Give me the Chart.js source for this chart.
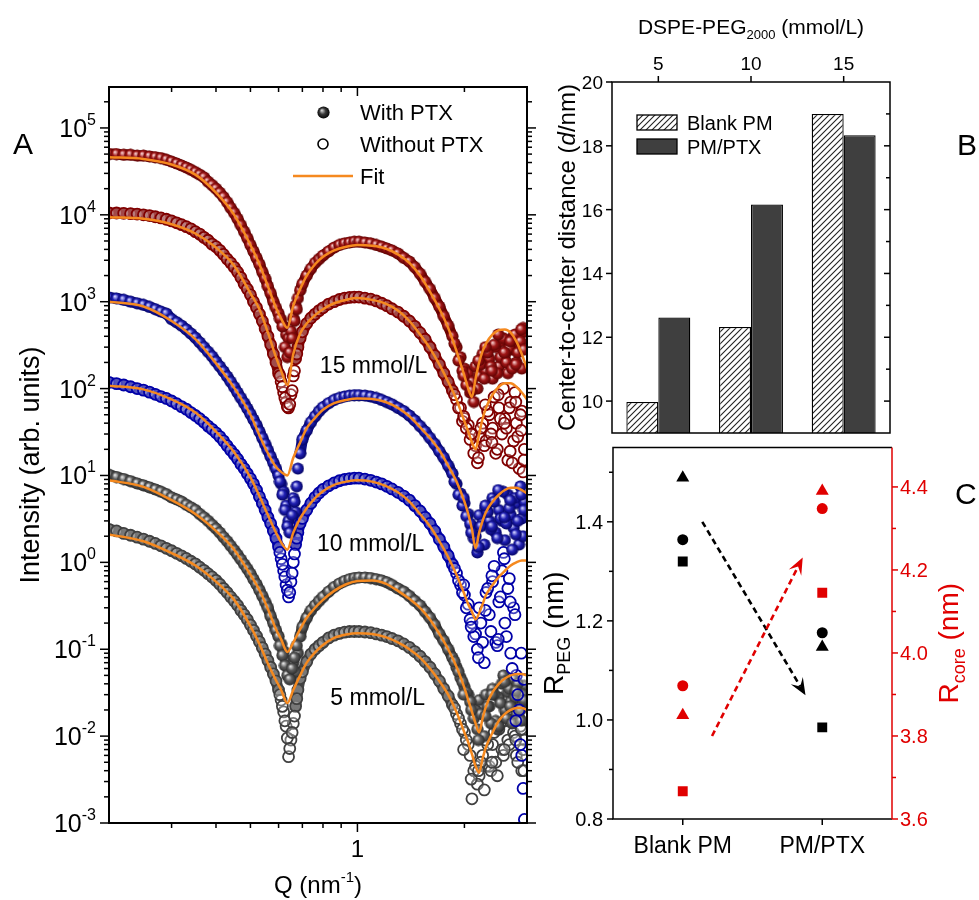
<!DOCTYPE html>
<html>
<head>
<meta charset="UTF-8">
<title>SAXS of DSPE-PEG2000 micelles</title>
<script src="https://cdn.jsdelivr.net/npm/chart.js"></script>
<style>
  body { margin: 0; background: #fff; }
  #wrap { position: relative; width: 979px; height: 900px; overflow: hidden; }
  #wrap canvas { position: absolute; }
</style>
</head>
<body>
<div id="wrap">
  <canvas id="chartA" width="545" height="900" style="left:0;top:0;width:545px;height:900px"></canvas>
  <canvas id="chartB" width="449" height="440" style="left:530px;top:0;width:449px;height:440px"></canvas>
  <canvas id="chartC" width="449" height="460" style="left:530px;top:440px;width:449px;height:460px"></canvas>
</div>

<script>
// ---------- A: scattering curves ----------
const qData = [
  0.20,0.21,0.22,0.23,0.24,0.25,0.26,0.27,0.28,0.29,
  0.30,0.31,0.32,0.33,0.34,0.35,0.36,0.37,0.38,0.39,
  0.40,0.41,0.42,0.43,0.44,0.45,0.46,0.47,0.48,0.49,
  0.50,0.51,0.52,0.53,0.54,0.55,0.56,0.57,0.58,0.59,
  0.60,0.61,0.62,0.63,0.64,0.65,0.66,0.67,0.68,0.69,
  0.70,0.72,0.74,0.76,0.78,0.80,0.83,0.86,0.89,0.92,
  0.95,0.98,1.01,1.05,1.09,1.13,1.17,1.21,1.25,1.30,
  1.35,1.40,1.45,1.50,1.55,1.60,1.65,1.70,1.75,1.80,
  1.85,1.90,1.95,2.00,2.05,2.10,2.15,2.20,2.25,2.30,
  2.35,2.40,2.45,2.50,2.55,2.60,2.65,2.70,2.75,2.80,
  2.85,2.90,2.95
];
// extra points around the first minimum and in the noisy high-Q region
const qDip = [0.605,0.615,0.625,0.635,0.645,0.655,0.665,0.675];
const qTail = [
  1.875,1.925,1.975,2.025,2.075,2.125,2.175,2.225,2.275,2.325,
  2.375,2.425,2.475,2.525,2.575,2.625,2.675,2.725,2.775,2.825,
  2.875,2.925,
  1.99,2.09,2.19,2.29,2.39,2.49,2.59,2.69,2.79,2.89,2.94
];

const i15With = [
  5.0e4,5.0e4,4.9e4,4.9e4,4.8e4,4.8e4,4.7e4,4.6e4,4.5e4,4.3e4,
  4.1e4,3.9e4,3.7e4,3.5e4,3.3e4,3.1e4,2.9e4,2.7e4,2.4e4,2.2e4,
  2.0e4,1.8e4,1.6e4,1.4e4,1.2e4,1.05e4,9.0e3,7.6e3,6.4e3,5.4e3,
  4.5e3,3.8e3,3.2e3,2.7e3,2.2e3,1.85e3,1.5e3,1.25e3,1.0e3,850,
  730,620,520,420,380,460,650,900,1.1e3,1.35e3,
  1.6e3,2.0e3,2.4e3,2.8e3,3.1e3,3.4e3,3.8e3,4.2e3,4.5e3,4.7e3,
  4.8e3,4.9e3,4.9e3,4.8e3,4.7e3,4.5e3,4.3e3,4.1e3,3.9e3,3.6e3,
  3.2e3,2.9e3,2.5e3,2.1e3,1.7e3,1.4e3,1.1e3,880,680,530,
  400,300,230,170,150,120,180,140,250,160,
  220,130,300,180,350,240,150,280,400,200,
  330,170,450
];
const d15With = [640,520,300,230,260,380,600,820];
const t15With = [330,210,160,110,90,70,100,190,130,260,180,320,150,230,380,200,290,170,420,260,350,500,
                 140,95,210,300,160,420,260,350,190,480,280];

const i15Without = [
  1.05e4,1.05e4,1.04e4,1.03e4,1.02e4,1.0e4,9.8e3,9.5e3,9.2e3,8.9e3,
  8.5e3,8.1e3,7.7e3,7.3e3,6.9e3,6.4e3,6.0e3,5.5e3,5.1e3,4.6e3,
  4.3e3,3.9e3,3.5e3,3.1e3,2.8e3,2.5e3,2.2e3,1.9e3,1.6e3,1.4e3,
  1.2e3,1.0e3,860,720,600,490,400,320,250,200,
  150,120,90,70,60,85,140,220,300,380,
  450,560,650,720,790,850,940,1.0e3,1.06e3,1.1e3,
  1.12e3,1.13e3,1.13e3,1.1e3,1.07e3,1.02e3,960,900,830,760,
  680,600,520,440,370,300,240,190,150,120,
  95,75,60,45,38,30,22,28,40,25,
  50,35,18,60,30,45,15,70,25,40,
  12,55,20
];
const d15Without = [140,105,78,62,66,95,160,250];
const t15Without = [85,60,42,35,26,18,14,35,22,55,30,80,20,45,100,35,60,14,90,28,50,11,
                    48,30,16,65,24,85,40,19,70,33,15];

const i10With = [
  1.12e3,1.09e3,1.05e3,1.0e3,960,920,870,820,770,730,
  630,580,530,480,430,385,340,300,265,235,
  205,180,158,138,120,104,90,78,68,59,
  51,44,38,32,27,23,19.5,16.5,14,12,
  10,8.0,6.5,4.5,3.0,2.3,5.5,3.8,12,18,
  26,33,41,48,55,61,68,74,78,81,
  83,84,84,83,81,78,74,70,66,60,
  55,49,43,37,32,27,23,19,16,13,
  10.5,8.0,6.2,4.8,3.6,2.6,2.0,3.5,2.8,4.2,
  3.0,5.5,2.2,4.0,3.0,1.8,6.0,3.5,2.5,4.8,
  1.6,3.2,5.0
];
const d10With = [8.5,6.0,4.0,2.6,2.2,3.5,5.0,7.5];
const t10With = [8.5,6.0,4.5,3.4,2.8,1.9,1.3,2.6,1.6,3.8,2.4,5.0,1.9,3.2,6.5,2.8,4.2,1.4,5.5,3.0,7.5,2.0,
                 5.5,2.2,1.5,4.5,2.6,6.8,3.3,5.2,2.1,6.0,4.0];

const i10Without = [
  118,114,110,105,100,96,91,86,81,77,
  72,67,62,58,53,49,45,41,37,34,
  31,28,25,22,19.5,17.5,15.5,13.5,12,10.5,
  9.2,8.0,6.8,5.7,4.8,4.0,3.3,2.8,2.3,1.9,
  1.5,1.1,0.8,0.55,0.4,0.6,1.0,1.6,2.2,2.8,
  3.2,4.0,4.8,5.6,6.3,6.9,7.6,8.2,8.7,9.0,
  9.2,9.3,9.3,9.1,8.8,8.4,8.0,7.5,7.0,6.4,
  5.8,5.2,4.5,3.9,3.3,2.8,2.3,1.85,1.5,1.2,
  0.95,0.75,0.55,0.42,0.33,0.2,0.15,0.3,0.12,0.45,
  0.25,0.6,0.12,0.35,0.8,0.2,0.5,0.09,0.3,0.05,
  0.02,0.006,0.0011
];
const d10Without = [1.3,0.95,0.68,0.48,0.45,0.75,1.25,1.9];
const t10Without = [0.85,0.62,0.45,0.3,0.22,0.14,0.1,0.2,0.07,0.5,0.16,0.9,0.11,0.4,1.3,0.14,0.65,0.06,0.25,0.03,0.008,0.0025,
                    0.55,0.18,0.08,0.28,0.7,0.13,1.1,0.35,0.015,0.09,0.045];

const i5With = [
  10.2,9.6,9.1,8.6,8.1,7.7,7.3,6.9,6.5,6.1,
  5.6,5.3,5.0,4.6,4.3,4.0,3.6,3.3,3.0,2.7,
  2.45,2.2,1.95,1.75,1.55,1.38,1.22,1.08,0.95,0.84,
  0.74,0.64,0.56,0.48,0.41,0.35,0.30,0.24,0.20,0.165,
  0.14,0.115,0.095,0.075,0.062,0.05,0.07,0.055,0.09,0.14,
  0.18,0.23,0.28,0.32,0.36,0.40,0.46,0.52,0.57,0.61,
  0.64,0.66,0.67,0.67,0.66,0.64,0.62,0.59,0.55,0.50,
  0.46,0.41,0.36,0.32,0.27,0.23,0.19,0.15,0.125,0.10,
  0.08,0.062,0.047,0.037,0.03,0.024,0.02,0.026,0.018,0.03,
  0.022,0.035,0.015,0.028,0.04,0.02,0.032,0.025,0.045,0.018,
  0.03,0.022,0.038
];
const d5With = [0.11,0.085,0.065,0.05,0.045,0.06,0.08,0.11];
const t5With = [0.072,0.055,0.042,0.032,0.025,0.016,0.012,0.018,0.01,0.022,0.014,0.03,0.012,0.024,0.05,0.016,0.035,0.014,0.028,0.04,0.02,0.03,
                0.03,0.02,0.009,0.017,0.03,0.013,0.042,0.022,0.033,0.015,0.026];

const i5Without = [
  2.4,2.3,2.15,2.05,1.95,1.85,1.75,1.65,1.55,1.45,
  1.36,1.27,1.19,1.11,1.03,0.96,0.88,0.81,0.74,0.68,
  0.62,0.56,0.50,0.45,0.40,0.36,0.32,0.28,0.25,0.22,
  0.19,0.165,0.142,0.122,0.104,0.088,0.074,0.062,0.052,0.043,
  0.034,0.026,0.019,0.013,0.0058,0.009,0.014,0.022,0.034,0.046,
  0.055,0.072,0.088,0.10,0.11,0.12,0.135,0.145,0.152,0.157,
  0.16,0.16,0.16,0.158,0.155,0.15,0.145,0.14,0.133,0.125,
  0.115,0.105,0.094,0.083,0.072,0.062,0.052,0.043,0.035,0.029,
  0.023,0.018,0.014,0.011,0.008,0.0019,0.0045,0.0035,0.006,0.0045,
  0.0045,0.008,0.005,0.012,0.007,0.015,0.009,0.02,0.011,0.006,
  0.016,0.004,0.009
];
const d5Without = [0.03,0.022,0.015,0.0095,0.0072,0.011,0.017,0.027];
const t5Without = [0.021,0.016,0.012,0.009,0.006,0.004,0.0028,0.005,0.0024,0.008,0.004,0.011,0.0035,0.014,0.006,0.018,0.008,0.025,0.01,0.005,0.013,0.007,
                   0.007,0.0032,0.004,0.009,0.005,0.013,0.007,0.02,0.009,0.012,0.004];

// model fits
const qFit = [
  0.20,0.25,0.30,0.35,0.40,0.45,0.50,0.53,0.56,0.59,
  0.61,0.635,0.66,0.69,0.72,0.76,0.80,0.86,0.93,1.00,
  1.10,1.20,1.30,1.40,1.50,1.60,1.70,1.80,1.90,2.00,
  2.05,2.10,2.15,2.20,2.25,2.30,2.40,2.50,2.60,2.70,
  2.80,2.90,3.00
];
const fit15With = [
  4.6e4,4.4e4,3.8e4,2.9e4,1.8e4,1.0e4,4.5e3,2.7e3,1.5e3,850,
  640,500,900,1.4e3,2.0e3,2.7e3,3.3e3,3.9e3,4.3e3,4.5e3,
  4.4e3,4.1e3,3.5e3,2.8e3,2.0e3,1.3e3,830,500,270,140,
  100,80,130,200,270,330,420,470,480,440,
  350,250,170
];
const fit15Without = [
  9.4e3,9.0e3,7.8e3,6.1e3,4.2e3,2.6e3,1.25e3,820,440,230,
  160,110,250,430,560,700,820,960,1.05e3,1.1e3,
  1.05e3,950,790,600,420,290,190,120,75,42,
  32,24,20,30,45,60,85,105,115,115,
  105,90,75
];
const fit10With = [
  1.0e3,880,600,370,195,102,50,29,18,12.5,
  11,10,16,24,35,46,57,68,74,77,
  76,70,60,48,36,27,19.5,13,8.5,5.0,
  3.6,2.4,1.45,2.2,3.0,3.8,5.0,6.0,6.8,7.2,
  7.2,6.8,6.2
];
const fit10Without = [
  108,98,75,53,32,18.5,9.5,5.8,3.5,2.2,
  1.7,1.4,2.2,3.2,4.2,5.5,6.6,7.8,8.5,8.8,
  8.5,7.6,6.4,5.0,3.6,2.6,1.75,1.15,0.72,0.43,
  0.33,0.27,0.22,0.26,0.33,0.42,0.55,0.68,0.8,0.92,
  1.0,1.05,1.05
];
const fit5With = [
  8.8,7.4,5.2,3.6,2.3,1.4,0.72,0.48,0.29,0.17,
  0.13,0.093,0.12,0.17,0.23,0.30,0.37,0.47,0.56,0.61,
  0.62,0.57,0.47,0.38,0.30,0.22,0.15,0.10,0.063,0.036,
  0.026,0.019,0.014,0.011,0.016,0.022,0.032,0.040,0.046,0.050,
  0.052,0.052,0.050
];
const fit5Without = [
  2.1,1.75,1.28,0.92,0.60,0.37,0.185,0.115,0.068,0.044,
  0.034,0.024,0.034,0.050,0.070,0.092,0.112,0.135,0.148,0.153,
  0.150,0.138,0.120,0.100,0.080,0.060,0.043,0.030,0.019,0.011,
  0.0085,0.0062,0.0045,0.0038,0.0055,0.0075,0.011,0.015,0.018,0.020,
  0.021,0.021,0.020
];

// axis ticks for A
const qMajorTicks = [1];
const qMinorTicks = [0.3,0.4,0.5,0.6,0.7,0.8,0.9,2];
const intensityExps = [-3,-2,-1,0,1,2,3,4,5];
const concLabels = [
  { text: '15 mmol/L', q: 1.11, i: 186 },
  { text: '10 mmol/L', q: 1.09, i: 1.67 },
  { text: '5 mmol/L',  q: 1.14, i: 0.028 }
];

// ---------- B: center-to-center distance ----------
const pegLevels = ['5', '10', '15'];
const blankPM = [9.97, 12.32, 19.0];
const pmPTX = [12.62, 16.16, 18.33];
const distTicks = [10, 12, 14, 16, 18, 20];

// ---------- C: shell / core radii ----------
const groupsC = ['Blank PM', 'PM/PTX'];
const rPegSquare = [1.320, 0.985];
const rPegCircle = [1.364, 1.176];
const rPegTriangle = [1.489, 1.147];
const rCoreSquare = [3.667, 4.145];
const rCoreCircle = [3.921, 4.348];
const rCoreTriangle = [3.850, 4.390];
const pegTicks = [0.8, 1.0, 1.2, 1.4];
const pegMinor = [0.9, 1.1, 1.3, 1.5];
const coreTicks = [3.6, 3.8, 4.0, 4.2, 4.4];
const coreMinor = [3.7, 3.9, 4.1, 4.3];
const trendPEG = [[0.14, 1.40], [0.88, 1.05]];
const trendCore = [[0.21, 3.80], [0.86, 4.23]];

// ---------- helpers ----------
const FONT = '"Liberation Sans", Arial, sans-serif';
const ORANGE = '#F5891F';
const RED = '#e00000';

function pts(xs, ys) { return xs.map((x, k) => ({ x: x, y: ys[k] })); }

function sphere(edge, mid, light) {
  const c = document.createElement('canvas');
  c.width = c.height = 13;
  const g = c.getContext('2d');
  const grad = g.createRadialGradient(4.8, 4.3, 0.4, 6.5, 6.5, 6.4);
  grad.addColorStop(0, light);
  grad.addColorStop(0.45, mid);
  grad.addColorStop(1, edge);
  g.fillStyle = grad;
  g.beginPath(); g.arc(6.5, 6.5, 6.1, 0, Math.PI * 2); g.fill();
  return c;
}

// draws text pieces (sub/superscripts, italics) in a row; y is the baseline
function rich(ctx, parts, x, y, align, angle, color) {
  ctx.save();
  ctx.translate(x, y);
  if (angle) ctx.rotate(angle);
  ctx.textBaseline = 'alphabetic';
  ctx.textAlign = 'left';
  const fontOf = p => (p.it ? 'italic ' : '') + p.s + 'px ' + FONT;
  let total = 0;
  const ws = parts.map(p => { ctx.font = fontOf(p); const w = ctx.measureText(p.t).width; total += w; return w; });
  let cx = align === 'center' ? -total / 2 : align === 'right' ? -total : 0;
  parts.forEach((p, k) => {
    ctx.font = fontOf(p);
    ctx.fillStyle = p.c || color || '#000';
    ctx.fillText(p.t, cx, p.dy || 0);
    cx += ws[k];
  });
  ctx.restore();
}

function line(ctx, x1, y1, x2, y2) {
  ctx.beginPath(); ctx.moveTo(x1, y1); ctx.lineTo(x2, y2); ctx.stroke();
}

const baseOpts = {
  responsive: false,
  animation: false,
  events: [],
  devicePixelRatio: 1,
  plugins: { legend: { display: false }, tooltip: { enabled: false } }
};

// ---------- chart A ----------
const redBall = sphere('#560000', '#a01616', '#f6cccc');
const blueBall = sphere('#00005c', '#2222b4', '#cfcfff');
const grayBall = sphere('#262626', '#5e5e5e', '#e4e4e4');
const keyBall = sphere('#000000', '#3a3a3a', '#cfcfcf');

// the dense measured points merge into a band; the band only joins the main
// run of points and stays open where they scatter (first minimum, high Q)
function inGap(c, gaps) {
  if (c.p1DataIndex >= qData.length) return true;
  const a = c.p0.parsed.x, b = c.p1.parsed.x;
  return gaps.some(g => (a >= g[0] && a <= g[1]) || (b >= g[0] && b <= g[1]));
}
const withGaps = [[0.605, 0.685], [1.88, 9]];
const withoutGaps = [[0.605, 0.665], [1.88, 9]];

function series(ys, dip, tail) {
  return pts(qData, ys).concat(pts(qDip, dip), pts(qTail, tail));
}
function filled(label, ys, dip, tail, ball, band) {
  return { label: label, data: series(ys, dip, tail),
           showLine: true, borderColor: band, borderWidth: 11,
           borderCapStyle: 'round', borderJoinStyle: 'round',
           segment: { borderColor: c => inGap(c, withGaps) ? 'rgba(0,0,0,0)' : undefined },
           pointStyle: ball, pointRadius: 6.5, order: 2 };
}
function open(label, ys, dip, tail, color, band) {
  return { label: label, data: series(ys, dip, tail),
           showLine: true, borderColor: band, borderWidth: 11,
           borderCapStyle: 'round', borderJoinStyle: 'round',
           segment: { borderColor: c => inGap(c, withoutGaps) ? 'rgba(0,0,0,0)' : undefined },
           pointStyle: 'circle', pointRadius: 5.5, pointBorderWidth: 1.8,
           pointBorderColor: color, pointBackgroundColor: 'rgba(255,255,255,0.28)', order: 2 };
}
function fit(label, ys) {
  return { label: label, data: pts(qFit, ys), showLine: true, pointRadius: 0,
           borderColor: ORANGE, borderWidth: 2.5, cubicInterpolationMode: 'monotone',
           order: 1 };
}

const axesA = {
  id: 'axesA',
  afterDatasetsDraw(chart) {
    const { ctx, chartArea: ca, scales: { x, y } } = chart;
    ctx.save();
    ctx.strokeStyle = '#000';
    ctx.lineWidth = 2;
    ctx.strokeRect(ca.left, ca.top, ca.right - ca.left, ca.bottom - ca.top);
    ctx.lineWidth = 1.5;
    qMinorTicks.forEach(q => {
      const px = x.getPixelForValue(q);
      line(ctx, px, ca.bottom, px, ca.bottom + 5);
      line(ctx, px, ca.top, px, ca.top + 5);
    });
    qMajorTicks.forEach(q => {
      const px = x.getPixelForValue(q);
      line(ctx, px, ca.bottom, px, ca.bottom + 9);
      line(ctx, px, ca.top, px, ca.top + 9);
      rich(ctx, [{ t: String(q), s: 24 }], px, ca.bottom + 34, 'center');
    });
    intensityExps.forEach(e => {
      for (let k = 1; k <= 9; k++) {
        const v = k * Math.pow(10, e);
        if (v < y.min || v > y.max) continue;
        const py = y.getPixelForValue(v);
        const len = k === 1 ? 9 : 5;
        line(ctx, ca.left - len, py, ca.left, py);
        line(ctx, ca.right, py, ca.right + len, py);
      }
      const py = y.getPixelForValue(Math.pow(10, e));
      rich(ctx, [{ t: '10', s: 25 }, { t: String(e), s: 16, dy: -12 }], ca.left - 13, py + 9, 'right');
    });
    rich(ctx, [{ t: 'Q (nm', s: 24 }, { t: '-1', s: 15, dy: -11 }, { t: ')', s: 24 }],
         (ca.left + ca.right) / 2, ca.bottom + 70, 'center');
    rich(ctx, [{ t: 'Intensity (arb. units)', s: 27 }], ca.left - 70, (ca.top + ca.bottom) / 2 + 10,
         'center', -Math.PI / 2);
    rich(ctx, [{ t: 'A', s: 30 }], ca.left - 96, ca.top + 67, 'left');

    // key
    ctx.drawImage(keyBall, ca.left + 208, ca.top + 19);
    ctx.lineWidth = 1.6;
    ctx.beginPath(); ctx.arc(ca.left + 214, ca.top + 57, 5, 0, Math.PI * 2); ctx.stroke();
    ctx.strokeStyle = ORANGE; ctx.lineWidth = 2.5;
    line(ctx, ca.left + 184, ca.top + 89, ca.left + 244, ca.top + 89);
    rich(ctx, [{ t: 'With PTX', s: 22 }], ca.left + 251, ca.top + 33, 'left');
    rich(ctx, [{ t: 'Without PTX', s: 22 }], ca.left + 251, ca.top + 65, 'left');
    rich(ctx, [{ t: 'Fit', s: 22 }], ca.left + 251, ca.top + 97, 'left');

    concLabels.forEach(l => {
      rich(ctx, [{ t: l.text, s: 23 }], x.getPixelForValue(l.q), y.getPixelForValue(l.i) + 8, 'center');
    });
    ctx.restore();
  }
};

new Chart(document.getElementById('chartA'), {
  type: 'scatter',
  data: {
    datasets: [
      filled('15 mmol/L with PTX', i15With, d15With, t15With, redBall, '#6e0000'),
      open('15 mmol/L without PTX', i15Without, d15Without, t15Without, '#800000', '#7a0606'),
      filled('10 mmol/L with PTX', i10With, d10With, t10With, blueBall, '#0c0c86'),
      open('10 mmol/L without PTX', i10Without, d10Without, t10Without, '#0000a8', '#1414a0'),
      filled('5 mmol/L with PTX', i5With, d5With, t5With, grayBall, '#363636'),
      open('5 mmol/L without PTX', i5Without, d5Without, t5Without, '#404040', '#444444'),
      fit('fit 15 with', fit15With),
      fit('fit 15 without', fit15Without),
      fit('fit 10 with', fit10With),
      fit('fit 10 without', fit10Without),
      fit('fit 5 with', fit5With),
      fit('fit 5 without', fit5Without)
    ]
  },
  options: Object.assign({}, baseOpts, {
    layout: { padding: { left: 109, right: 18, top: 87, bottom: 77 } },
    scales: {
      x: { type: 'logarithmic', min: 0.2, max: 3, display: false },
      y: { type: 'logarithmic', min: 1e-3, max: 2.96e5, display: false }
    }
  }),
  plugins: [axesA]
});

// ---------- chart B ----------
function hatch() {
  const t = document.createElement('canvas');
  t.width = t.height = 6;
  const g = t.getContext('2d');
  g.fillStyle = '#fff'; g.fillRect(0, 0, 6, 6);
  g.strokeStyle = '#222'; g.lineWidth = 1.1;
  g.beginPath();
  g.moveTo(-1, 7); g.lineTo(7, -1);
  g.moveTo(-1, 1); g.lineTo(1, -1);
  g.moveTo(5, 7); g.lineTo(7, 5);
  g.stroke();
  return g.createPattern(t, 'repeat');
}
const hatchFill = hatch();

const axesB = {
  id: 'axesB',
  afterDatasetsDraw(chart) {
    const { ctx, chartArea: ca, scales: { x, y } } = chart;
    ctx.save();
    ctx.strokeStyle = '#000';
    ctx.lineWidth = 1.5;
    ctx.strokeRect(ca.left, ca.top, ca.right - ca.left, ca.bottom - ca.top);
    distTicks.forEach(v => {
      const py = y.getPixelForValue(v);
      line(ctx, ca.left - 6, py, ca.left, py);
      rich(ctx, [{ t: String(v), s: 19 }], ca.left - 9, py + 7, 'right');
    });
    for (let v = 10; v < 20; v++) {
      const py = y.getPixelForValue(v);
      line(ctx, ca.right - (v % 2 ? 4 : 6), py, ca.right, py);
    }
    pegLevels.forEach((lab, k) => {
      const px = x.getPixelForValue(k);
      line(ctx, px, ca.top - 6, px, ca.top);
      rich(ctx, [{ t: lab, s: 19 }], px, ca.top - 12, 'center');
    });
    rich(ctx, [{ t: 'DSPE-PEG', s: 21 }, { t: '2000', s: 13, dy: 5 }, { t: ' (mmol/L)', s: 21 }],
         (ca.left + ca.right) / 2, ca.top - 48, 'center');
    rich(ctx, [{ t: 'Center-to-center distance (', s: 24 }, { t: 'd', s: 24, it: true }, { t: '/nm)', s: 24 }],
         ca.left - 37, (ca.top + ca.bottom) / 2, 'center', -Math.PI / 2);
    rich(ctx, [{ t: 'B', s: 30 }], ca.right + 67, ca.top + 73, 'left');

    // key
    ctx.lineWidth = 1.3;
    ctx.fillStyle = hatchFill;
    ctx.fillRect(ca.left + 25, ca.top + 33, 40, 15);
    ctx.strokeRect(ca.left + 25, ca.top + 33, 40, 15);
    ctx.fillStyle = '#3f3f3f';
    ctx.fillRect(ca.left + 25, ca.top + 57, 40, 15);
    ctx.strokeRect(ca.left + 25, ca.top + 57, 40, 15);
    rich(ctx, [{ t: 'Blank PM', s: 20 }], ca.left + 75, ca.top + 48, 'left');
    rich(ctx, [{ t: 'PM/PTX', s: 20 }], ca.left + 75, ca.top + 72, 'left');
    ctx.restore();
  }
};

new Chart(document.getElementById('chartB'), {
  type: 'bar',
  data: {
    labels: pegLevels,
    datasets: [
      { label: 'Blank PM', data: blankPM, backgroundColor: hatchFill, borderColor: '#000', borderWidth: 1.3 },
      { label: 'PM/PTX', data: pmPTX, backgroundColor: '#3f3f3f', borderColor: '#000', borderWidth: 1.3 }
    ]
  },
  options: Object.assign({}, baseOpts, {
    layout: { padding: { left: 82, right: 89, top: 82, bottom: 7 } },
    datasets: { bar: { categoryPercentage: 0.69, barPercentage: 1.0 } },
    scales: {
      x: { display: false },
      y: { min: 9, max: 20, display: false }
    }
  }),
  plugins: [axesB]
});

// ---------- chart C ----------
function arrow(ctx, x0, y0, x1, y1, color) {
  const a = Math.atan2(y1 - y0, x1 - x0);
  const head = 17, half = 7;
  ctx.save();
  ctx.strokeStyle = color; ctx.fillStyle = color; ctx.lineWidth = 2.6;
  ctx.setLineDash([6, 4]);
  line(ctx, x0, y0, x1 - Math.cos(a) * head * 0.6, y1 - Math.sin(a) * head * 0.6);
  ctx.setLineDash([]);
  ctx.translate(x1, y1); ctx.rotate(a);
  ctx.beginPath();
  ctx.moveTo(0, 0); ctx.lineTo(-head, -half); ctx.lineTo(-head * 0.6, 0); ctx.lineTo(-head, half);
  ctx.closePath(); ctx.fill();
  ctx.restore();
}

const axesC = {
  id: 'axesC',
  beforeDatasetsDraw(chart) {
    const { ctx, scales: { x, y, y2 } } = chart;
    arrow(ctx, x.getPixelForValue(trendPEG[0][0]), y.getPixelForValue(trendPEG[0][1]),
          x.getPixelForValue(trendPEG[1][0]), y.getPixelForValue(trendPEG[1][1]), '#000');
    arrow(ctx, x.getPixelForValue(trendCore[0][0]), y2.getPixelForValue(trendCore[0][1]),
          x.getPixelForValue(trendCore[1][0]), y2.getPixelForValue(trendCore[1][1]), RED);
  },
  afterDatasetsDraw(chart) {
    const { ctx, chartArea: ca, scales: { x, y, y2 } } = chart;
    ctx.save();
    ctx.lineWidth = 1.5;
    ctx.strokeStyle = '#000';
    ctx.beginPath();
    ctx.moveTo(ca.right, ca.top); ctx.lineTo(ca.left, ca.top);
    ctx.lineTo(ca.left, ca.bottom); ctx.lineTo(ca.right, ca.bottom);
    ctx.stroke();
    pegTicks.forEach(v => {
      const py = y.getPixelForValue(v);
      line(ctx, ca.left - 6, py, ca.left, py);
      rich(ctx, [{ t: v.toFixed(1), s: 20 }], ca.left - 10, py + 7, 'right');
    });
    pegMinor.forEach(v => {
      const py = y.getPixelForValue(v);
      line(ctx, ca.left - 4, py, ca.left, py);
    });
    groupsC.forEach((g, k) => {
      const px = x.getPixelForValue(k);
      line(ctx, px, ca.bottom, px, ca.bottom + 6);
      rich(ctx, [{ t: g, s: 23 }], px, ca.bottom + 34, 'center');
    });
    ctx.strokeStyle = RED;
    line(ctx, ca.right, ca.top, ca.right, ca.bottom);
    coreTicks.forEach(v => {
      const py = y2.getPixelForValue(v);
      line(ctx, ca.right, py, ca.right + 6, py);
      rich(ctx, [{ t: v.toFixed(1), s: 20 }], ca.right + 8, py + 7, 'left', 0, RED);
    });
    coreMinor.forEach(v => {
      const py = y2.getPixelForValue(v);
      line(ctx, ca.right, py, ca.right + 4, py);
    });
    rich(ctx, [{ t: 'R', s: 28 }, { t: 'PEG', s: 18, dy: 7 }, { t: ' (nm)', s: 28 }],
         ca.left - 50, (ca.top + ca.bottom) / 2, 'center', -Math.PI / 2);
    rich(ctx, [{ t: 'R', s: 28 }, { t: 'core', s: 18, dy: 7 }, { t: ' (nm)', s: 28 }],
         ca.right + 66, (ca.top + ca.bottom) / 2 + 10, 'center', -Math.PI / 2, RED);
    rich(ctx, [{ t: 'C', s: 30 }], ca.right + 63, ca.top + 56, 'left');
    ctx.restore();
  }
};

function marker(label, data, axis, style, radius, color) {
  return { label: label, data: data, yAxisID: axis, showLine: false, pointStyle: style,
           pointRadius: radius, backgroundColor: color, borderColor: color, pointBorderWidth: 0 };
}

new Chart(document.getElementById('chartC'), {
  type: 'line',
  data: {
    labels: groupsC,
    datasets: [
      marker('R_PEG square', rPegSquare, 'y', 'rect', 7, '#000'),
      marker('R_PEG circle', rPegCircle, 'y', 'circle', 5.5, '#000'),
      marker('R_PEG triangle', rPegTriangle, 'y', 'triangle', 7.5, '#000'),
      marker('R_core square', rCoreSquare, 'y2', 'rect', 7, RED),
      marker('R_core circle', rCoreCircle, 'y2', 'circle', 5.5, RED),
      marker('R_core triangle', rCoreTriangle, 'y2', 'triangle', 7.5, RED)
    ]
  },
  options: Object.assign({}, baseOpts, {
    layout: { padding: { left: 83, right: 87, top: 3, bottom: 81 } },
    scales: {
      x: { type: 'category', offset: true, display: false },
      y: { min: 0.8, max: 1.55, display: false },
      y2: { position: 'right', min: 3.6, max: 4.495, display: false }
    }
  }),
  plugins: [axesC]
});
</script>
</body>
</html>
